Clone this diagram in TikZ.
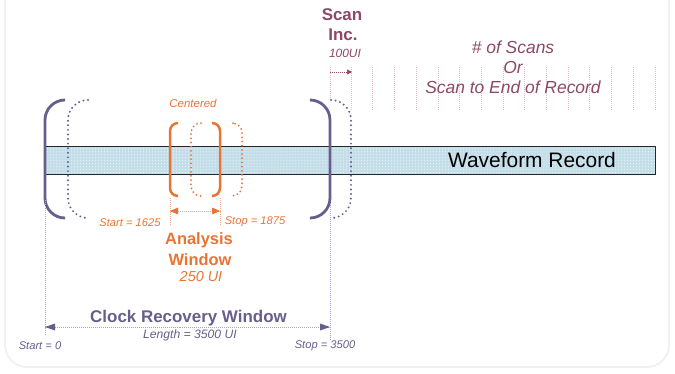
\documentclass[tikz,border=0pt]{standalone}
\usepackage{fontspec}
\setmainfont{Liberation Sans}
\usetikzlibrary{arrows.meta,patterns}
\definecolor{purp}{RGB}{104,94,140}
\definecolor{purplight}{RGB}{170,162,200}
\definecolor{orng}{RGB}{232,116,52}
\definecolor{orlight}{RGB}{244,176,140}
\definecolor{maro}{RGB}{140,72,100}
\definecolor{marolight}{RGB}{220,190,200}
\definecolor{barblue}{RGB}{196,222,233}
\tikzset{
  solidbr/.style={line width=2.8bp, line cap=round},
  dotbr/.style={line width=2.2bp, line cap=round, dash pattern=on 0pt off 4.6pt},
  guide/.style={line width=0.6bp, dash pattern=on 1pt off 1pt},
  lbl/.style={inner sep=0pt, anchor=center}
}
\begin{document}
\begin{tikzpicture}[x=1bp,y=-1bp]
\useasboundingbox (0,0) rectangle (675,373);
% frame
\begin{scope}
\clip (0,0) rectangle (675,373);
\draw[black!6, line width=1.8bp, rounded corners=22bp] (5,-40) rectangle (669,367);
\end{scope}

% waveform record bar
\fill[barblue] (45,146) rectangle (655,174);
\fill[pattern=dots, pattern color=white] (45,146) rectangle (655,174);
\draw[black!85, line width=0.9bp] (45,146) rectangle (655,174);
\node[lbl, font=\fontsize{21}{24}\selectfont] (wf) at (532,160) {Waveform Record};

% scan increments
\foreach \i in {0,...,14} {
  \draw[marolight, guide] (351+\i*21.7,67) -- (351+\i*21.7,110);
}
\coordinate (si0) at (330,67);
\coordinate (si0b) at (330,100);
\draw[marolight, guide] (si0) -- (si0b);
\coordinate (sa) at (330,72);
\coordinate (sb) at (352,72);
\draw[maro, guide, -{Triangle[length=5bp,width=5bp]}] (sa) -- (sb);
\node[lbl, text=maro, font=\fontsize{17}{19}\selectfont\bfseries] (scan) at (342,15) {Scan};
\node[lbl, text=maro, font=\fontsize{17}{19}\selectfont\bfseries] (inc) at (343,35) {Inc.};
\node[lbl, text=maro, font=\fontsize{12}{13}\selectfont\itshape] (ui100) at (345,53) {100UI};
\node[lbl, text=maro, font=\fontsize{17.5}{19}\selectfont\itshape] (nsc) at (513,47) {\# of Scans};
\node[lbl, text=maro, font=\fontsize{17.5}{19}\selectfont\itshape] (or) at (513,67) {Or};
\node[lbl, text=maro, font=\fontsize{17.5}{19}\selectfont\itshape] (ster) at (513,87) {Scan to End of Record};

% clock recovery brackets
\draw[purp, solidbr, rounded corners=20bp] (65,100) -- (45,100) -- (45,218) -- (65,218);
\draw[purp, dotbr, rounded corners=20bp] (88,100) -- (68,100) -- (68,218) -- (88,218);
\draw[purp, solidbr, rounded corners=20bp] (310,100) -- (330,100) -- (330,218) -- (310,218);
\draw[purp, dotbr, rounded corners=20bp] (331,100) -- (351,100) -- (351,218) -- (331,218);

% analysis brackets
\draw[orng, solidbr, line width=2.5bp, rounded corners=8bp] (178,123) -- (170,123) -- (170,196) -- (178,196);
\draw[orng, solidbr, line width=2.5bp, rounded corners=8bp] (212,123) -- (220,123) -- (220,196) -- (212,196);
\draw[orng, dotbr, line width=2bp, dash pattern=on 0pt off 4.2pt, rounded corners=10bp] (201,123) -- (191,123) -- (191,196) -- (201,196);
\draw[orng, dotbr, line width=2bp, dash pattern=on 0pt off 4.2pt, rounded corners=10bp] (233,123) -- (242,123) -- (242,196) -- (233,196);
\node[lbl, text=orng, font=\fontsize{11.5}{13}\selectfont\itshape] (cent) at (193,103) {Centered};

% analysis window dimension
\coordinate (aw1) at (170,198);
\coordinate (aw1b) at (170,224);
\coordinate (aw2) at (220,198);
\coordinate (aw2b) at (220,224);
\draw[orlight, guide] (aw1) -- (aw1b);
\draw[orlight, guide] (aw2) -- (aw2b);
\coordinate (awa) at (170,211);
\coordinate (awb) at (220,211);
\draw[orlight, guide] (awa) -- (awb);
\fill[orng] (awa) -- ++(8,-3.5) -- ++(0,7) -- cycle;
\fill[orng] (awb) -- ++(-8,-3.5) -- ++(0,7) -- cycle;
\node[lbl, text=orng, font=\fontsize{11.2}{12}\selectfont\itshape] (st1) at (130,223) {Start = 1625};
\node[lbl, text=orng, font=\fontsize{11.2}{12}\selectfont\itshape] (sp1) at (255,222) {Stop = 1875};
\node[lbl, text=orng, font=\fontsize{16.5}{18}\selectfont\bfseries] (ana) at (199,240) {Analysis};
\node[lbl, text=orng, font=\fontsize{16.5}{18}\selectfont\bfseries] (win) at (200,260) {Window};
\node[lbl, text=orng, font=\fontsize{14.5}{16}\selectfont\itshape] (u250) at (201,277) {250 UI};

% clock recovery dimension
\coordinate (cr1) at (45,200);
\coordinate (cr1b) at (45,334);
\coordinate (cr2) at (330,205);
\coordinate (cr2b) at (330,340);
\draw[purplight, guide] (cr1) -- (cr1b);
\draw[purplight, guide] (cr2) -- (cr2b);
\coordinate (cra) at (45,327);
\coordinate (crb) at (330,327);
\draw[purplight, guide] (cra) -- (crb);
\fill[purp] (cra) -- ++(10,-3.5) -- ++(0,7) -- cycle;
\fill[purp] (crb) -- ++(-10,-3.5) -- ++(0,7) -- cycle;
\node[lbl, text=purp, font=\fontsize{17}{19}\selectfont\bfseries] (crw) at (188.5,318) {Clock Recovery Window};
\node[lbl, text=purp, font=\fontsize{12.2}{14}\selectfont\itshape] (len) at (190,335) {Length = 3500 UI};
\node[lbl, text=purp, font=\fontsize{11.2}{12}\selectfont\itshape] (st0) at (40,346) {Start = 0};
\node[lbl, text=purp, font=\fontsize{11.2}{12}\selectfont\itshape] (sp0) at (325,346) {Stop = 3500};
\end{tikzpicture}
\end{document}
